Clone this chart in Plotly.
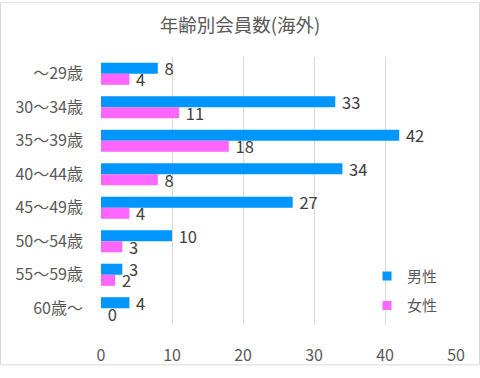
import plotly.graph_objects as go

categories = ["～29歳", "30～34歳", "35～39歳", "40～44歳", "45～49歳", "50～54歳", "55～59歳", "60歳～"]
male = [8, 33, 42, 34, 27, 10, 3, 4]
female = [4, 11, 18, 8, 4, 3, 2, 0]
x_ticks = [0, 10, 20, 30, 40, 50]

W, H = 480, 378
ml, mr, mt, mb = 101, 24, 57, 42
pw, ph = W - ml - mr, H - mt - mb

font = "Noto Sans CJK JP, sans-serif"
male_color, female_color = "#0096FF", "#FF66FF"
fig = go.Figure()
for name, vals, col in [("男性", male, male_color), ("女性", female, female_color)]:
    fig.add_trace(go.Bar(y=categories, x=vals, orientation="h", name=name,
                         marker=dict(color=col, line=dict(width=0)),
                         text=vals, texttemplate=" %{text}", textposition="outside",
                         cliponaxis=False, constraintext="none", showlegend=False,
                         textfont=dict(size=16.5, color="#404040", family=font)))
for i, (name, col) in enumerate([("男性", male_color), ("女性", female_color)]):
    fig.add_trace(go.Scatter(x=[None], y=[None], mode="markers", name=name,
                             legendgroup=f"g{i}",
                             marker=dict(symbol="square", size=9, color=col)))

fig.update_layout(
    width=W, height=H,
    margin=dict(l=ml, r=mr, t=mt, b=mb, pad=0),
    paper_bgcolor="white", plot_bgcolor="white",
    barmode="group", bargap=0.34, bargroupgap=0,
    font=dict(family=font, color="#595959", size=16),
    title=dict(text="年齢別会員数(海外)", x=0.5, xanchor="center", y=1 - 26 / H, yanchor="middle",
               font=dict(size=18.5, color="#595959", family=font)),
    xaxis=dict(range=[0, 50], tickvals=x_ticks, showgrid=True, gridcolor="#D9D9D9", gridwidth=1,
               zeroline=False, showline=False, ticks="", ticklabelstandoff=19,
               tickfont=dict(size=16, color="#595959")),
    yaxis=dict(autorange="reversed", showgrid=False, zeroline=False, showline=False, ticks="",
               ticklabelstandoff=17, tickfont=dict(size=16, color="#595959")),
    legend=dict(x=(367 - ml) / pw, y=1 - (268 - mt) / ph, xanchor="left", yanchor="top",
                bgcolor="rgba(0,0,0,0)", font=dict(size=15, color="#595959"),
                itemwidth=30, tracegroupgap=7),
    showlegend=True,
)
fig.add_shape(type="rect", xref="paper", yref="paper",
              x0=-(ml - 0.5) / pw, x1=1 + (mr - 0.5) / pw,
              y0=-(mb - 0.5) / ph, y1=1 + (mt - 0.5) / ph,
              line=dict(color="#D9D9D9", width=1), layer="below")
fig.write_html("out.html", config={"displayModeBar": False},
               post_script="document.body.style.margin='0';document.body.style.overflow='hidden';")
